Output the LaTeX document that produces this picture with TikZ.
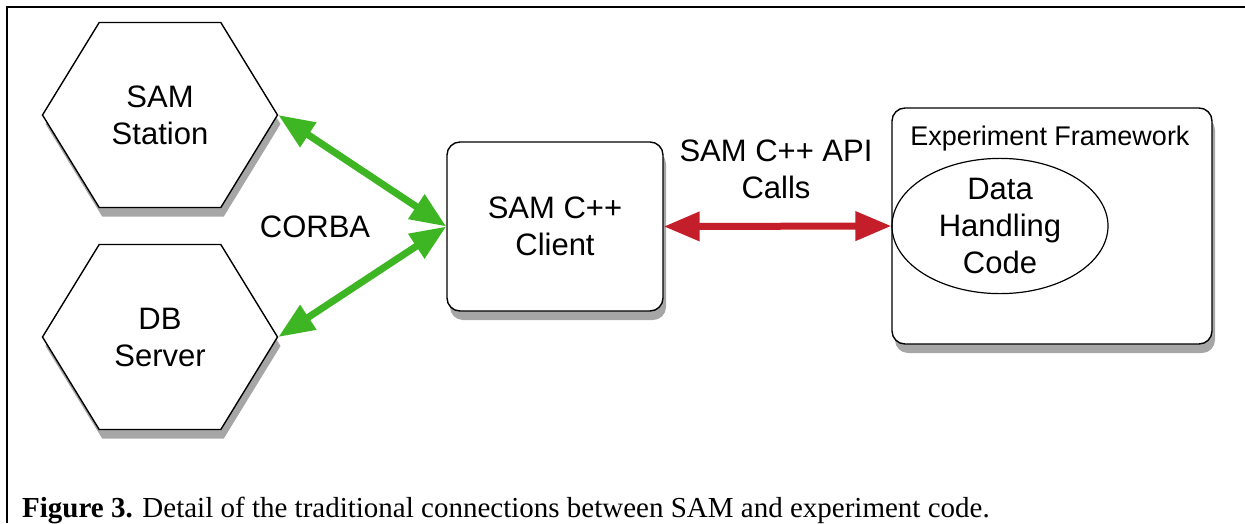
\documentclass[tikz,border=0pt]{standalone}
\usepackage{fontspec}
\setmainfont{Liberation Serif}
\setsansfont{Liberation Sans}
\usetikzlibrary{shapes.symbols,shapes.geometric,shadows,arrows.meta}

\definecolor{corbagreen}{RGB}{62,182,36}
\definecolor{apired}{RGB}{196,30,42}

\tikzset{
  boxfont/.style={font=\sffamily\fontsize{31}{37}\selectfont},
  softshadow/.style={drop shadow={shadow xshift=3pt,shadow yshift=-9pt,opacity=0.35,fill=black}},
  hexnode/.style={boxfont,signal,signal to=west and east,signal pointer angle=117,
    draw,line width=1.4pt,fill=white,minimum width=235pt,minimum height=185pt,
    align=center,inner sep=0pt,softshadow},
  roundbox/.style={boxfont,draw,line width=1.4pt,fill=white,rounded corners=13pt,
    align=center,softshadow},
  link/.style={line width=7pt,{Triangle[length=36pt,width=28pt]}-{Triangle[length=36pt,width=28pt]}}
}

\begin{document}
\begin{tikzpicture}[x=1pt,y=-1pt]
        \useasboundingbox (0,0) rectangle (1245,523);
        \draw[line width=2.5pt] (1245,7) -- (7,7) -- (7,523);
        \node[hexnode] (station) at (160,115) {SAM\\Station};
        \node[hexnode] (dbserver) at (160,337) {DB\\Server};
        \node[roundbox,minimum width=216pt,minimum height=169pt] (client) at (555,226.5) {SAM C++\\Client};
        \node[roundbox,minimum width=320pt,minimum height=236pt] (framework) at (1052,226) {};
        \node[font=\sffamily\fontsize{27}{32}\selectfont,anchor=base] (fwlabel) at (1050,145) {Experiment Framework};
        \node[boxfont,ellipse,draw,line width=1.2pt,minimum width=216pt,minimum height=134pt,
            inner sep=0pt,align=center] (handler) at (1000,226) {Data\\Handling\\Code};
        \node[boxfont] (corba) at (315,227) {CORBA};
        \node[boxfont,align=center] (apilabel) at (776,169) {SAM C++ API\\Calls};
        \draw[link,corbagreen] (station.east) -- (client.west);
        \draw[link,corbagreen] (dbserver.east) -- (client.west);
        \draw[link,apired] (client.east) -- (handler.west);
        \node[anchor=base west,font=\fontsize{29}{34}\selectfont,inner sep=0pt] (caption) at (22,517)
            {\textbf{Figure 3.} Detail of the traditional connections between SAM and experiment code.};
    \end{tikzpicture}
\end{document}
